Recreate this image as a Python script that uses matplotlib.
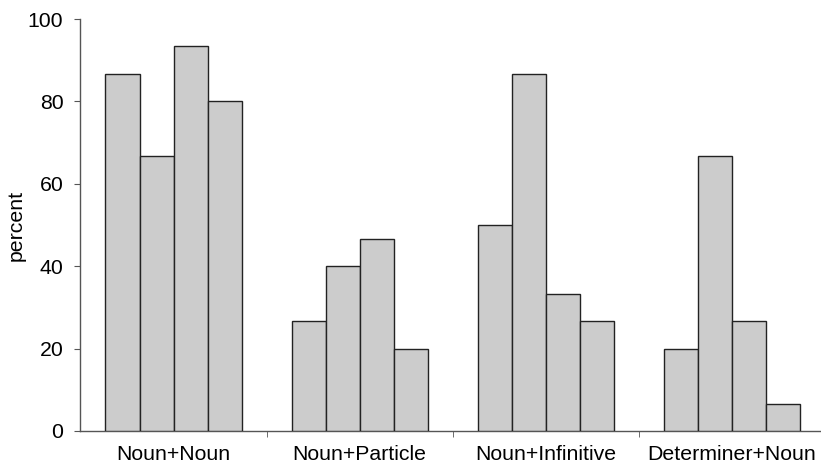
import numpy as np
import matplotlib.pyplot as plt

plt.rcParams['font.family'] = ['Liberation Sans', 'DejaVu Sans']

groups = ['Noun+Noun', 'Noun+Particle', 'Noun+Infinitive', 'Determiner+Noun']
bar1 = [86.67, 26.67, 50.0, 20.0]
bar2 = [66.67, 40.0, 86.67, 66.67]
bar3 = [93.33, 46.67, 33.33, 26.67]
bar4 = [80.0, 20.0, 26.67, 6.67]
series = [bar1, bar2, bar3, bar4]

fig = plt.figure(figsize=(8.21, 4.67), dpi=100)
ax = fig.add_axes([0.0974, 0.0771, 0.9026, 0.8822])

x = np.arange(len(groups))
w = 0.183
for i, vals in enumerate(series):
    ax.bar(x + (i - 1.5) * w, vals, width=w, color='#cccccc',
           edgecolor='#222222', linewidth=1.0, zorder=3)

fs = 15.3
ax.set_xlim(-0.503, 3.48)
ax.set_ylim(0, 100)
ax.set_yticks([0, 20, 40, 60, 80, 100])
ax.set_xticks(x)
ax.set_xticklabels(groups)
ax.set_xticks([0.5, 1.5, 2.5], minor=True)
ax.tick_params(axis='x', which='major', length=0, pad=10, labelsize=fs)
ax.tick_params(axis='x', which='minor', length=4, direction='out', color='#555555')
ax.tick_params(axis='y', length=4, direction='out', pad=8, labelsize=fs, color='#555555')
ax.set_ylabel('percent', fontsize=fs)
ax.yaxis.set_label_coords(-0.073, 0.5)

for s in ['top', 'right']:
    ax.spines[s].set_visible(False)
for s in ['left', 'bottom']:
    ax.spines[s].set_color('#555555')
    ax.spines[s].set_linewidth(1.0)

fig.savefig('out.png', dpi=100)
